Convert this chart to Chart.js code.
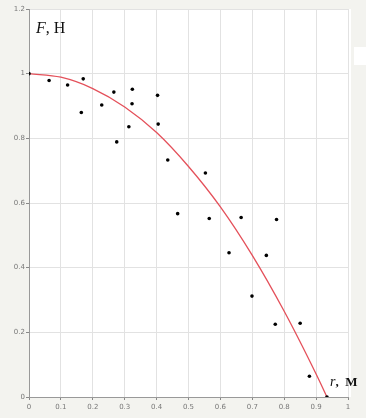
<!DOCTYPE html>
<html>
<head>
<meta charset="utf-8">
<script src="https://cdn.jsdelivr.net/npm/chart.js@4"></script>
<style>
  html, body { margin: 0; padding: 0; background: #f3f3ef; }
  #wrap { width: 366px; height: 418px; }
</style>
</head>
<body>
<div id="wrap"><canvas id="myChart" width="366" height="418"></canvas></div>
<script>
// measured points
const rValues = [0, 0.063, 0.121, 0.170, 0.164, 0.228, 0.266, 0.275, 0.313, 0.323, 0.324,
  0.403, 0.405, 0.435, 0.466, 0.553, 0.565, 0.627, 0.665, 0.699, 0.744, 0.772, 0.776,
  0.850, 0.879, 0.934];
const fValues = [1.0, 0.979, 0.965, 0.984, 0.880, 0.903, 0.943, 0.789, 0.836, 0.907, 0.952,
  0.933, 0.844, 0.733, 0.567, 0.693, 0.552, 0.446, 0.555, 0.312, 0.438, 0.225, 0.549,
  0.228, 0.064, 0.0];

// fitted curve
const fitR = [0, 0.1, 0.2, 0.3, 0.4, 0.5, 0.6, 0.7, 0.8, 0.9, 0.934];
const fitF = [1.0, 0.989, 0.954, 0.897, 0.818, 0.713, 0.588, 0.438, 0.265, 0.071, 0.0];

const xTickLabels = ['0', '0.1', '0.2', '0.3', '0.4', '0.5', '0.6', '0.7', '0.8', '0.9', '1'];
const yTickLabels = ['0', '0.2', '0.4', '0.6', '0.8', '1', '1.2'];

const ctx = document.getElementById('myChart').getContext('2d');

const frame = {
  id: 'frame',
  beforeDraw(chart) {
    const c = chart.ctx, a = chart.chartArea;
    c.save();
    c.fillStyle = '#f3f3ef';
    c.fillRect(0, 0, chart.width, chart.height);
    c.fillStyle = '#ffffff';
    c.fillRect(a.left, a.top, a.right - a.left + 3, a.bottom - a.top);
    c.fillRect(354, 47, 12, 18);
    c.restore();
  },
  afterDraw(chart) {
    const c = chart.ctx;
    c.save();
    c.fillStyle = '#111';
    c.textBaseline = 'alphabetic';
    c.font = 'italic 16px "Liberation Serif"';
    c.fillText('F', 36, 33);
    const w = c.measureText('F').width;
    c.font = '16px "Liberation Serif"';
    c.fillText(', H', 36 + w, 33);
    c.font = 'italic 14px "Liberation Serif"';
    c.fillText('r', 330, 386);
    const w2 = c.measureText('r').width;
    c.font = 'bold 13px "Liberation Serif"';
    c.fillText(',  M', 330 + w2, 386);
    c.restore();
  }
};

const myChart = new Chart(ctx, {
  type: 'scatter',
  data: {
    datasets: [{
      label: 'fit',
      data: fitR.map((r, i) => ({ x: r, y: fitF[i] })),
      showLine: true,
      borderColor: '#e4505a',
      borderWidth: 1.3,
      pointRadius: 0,
      cubicInterpolationMode: 'monotone',
      order: 2
    }, {
      label: 'data',
      data: rValues.map((r, i) => ({ x: r, y: fValues[i] })),
      backgroundColor: '#000',
      borderColor: '#000',
      borderWidth: 0,
      pointRadius: 1.8,
      order: 1
    }]
  },
  plugins: [frame],
  options: {
    responsive: false,
    animation: false,
    layout: {
      padding: { left: 0, right: 18, top: 9, bottom: 0 }
    },
    scales: {
      x: {
        type: 'linear',
        min: 0,
        max: 1,
        afterFit: s => { s.height = 21; },
        grid: { color: '#e2e2e2', tickLength: 3, tickColor: '#888' },
        border: { color: '#999' },
        ticks: {
          stepSize: 0.1,
          padding: 3,
          color: '#777',
          font: { size: 7, family: 'DejaVu Sans' },
          callback: (v, i) => xTickLabels[i]
        }
      },
      y: {
        min: 0,
        max: 1.2,
        afterFit: s => { s.width = 29; },
        grid: { color: '#e2e2e2', tickLength: 3, tickColor: '#888' },
        border: { color: '#999' },
        ticks: {
          stepSize: 0.2,
          padding: 1,
          color: '#777',
          font: { size: 7, family: 'DejaVu Sans' },
          callback: (v, i) => yTickLabels[i]
        }
      }
    },
    plugins: {
      legend: { display: false },
      tooltip: { enabled: false }
    }
  }
});
</script>
</body>
</html>
